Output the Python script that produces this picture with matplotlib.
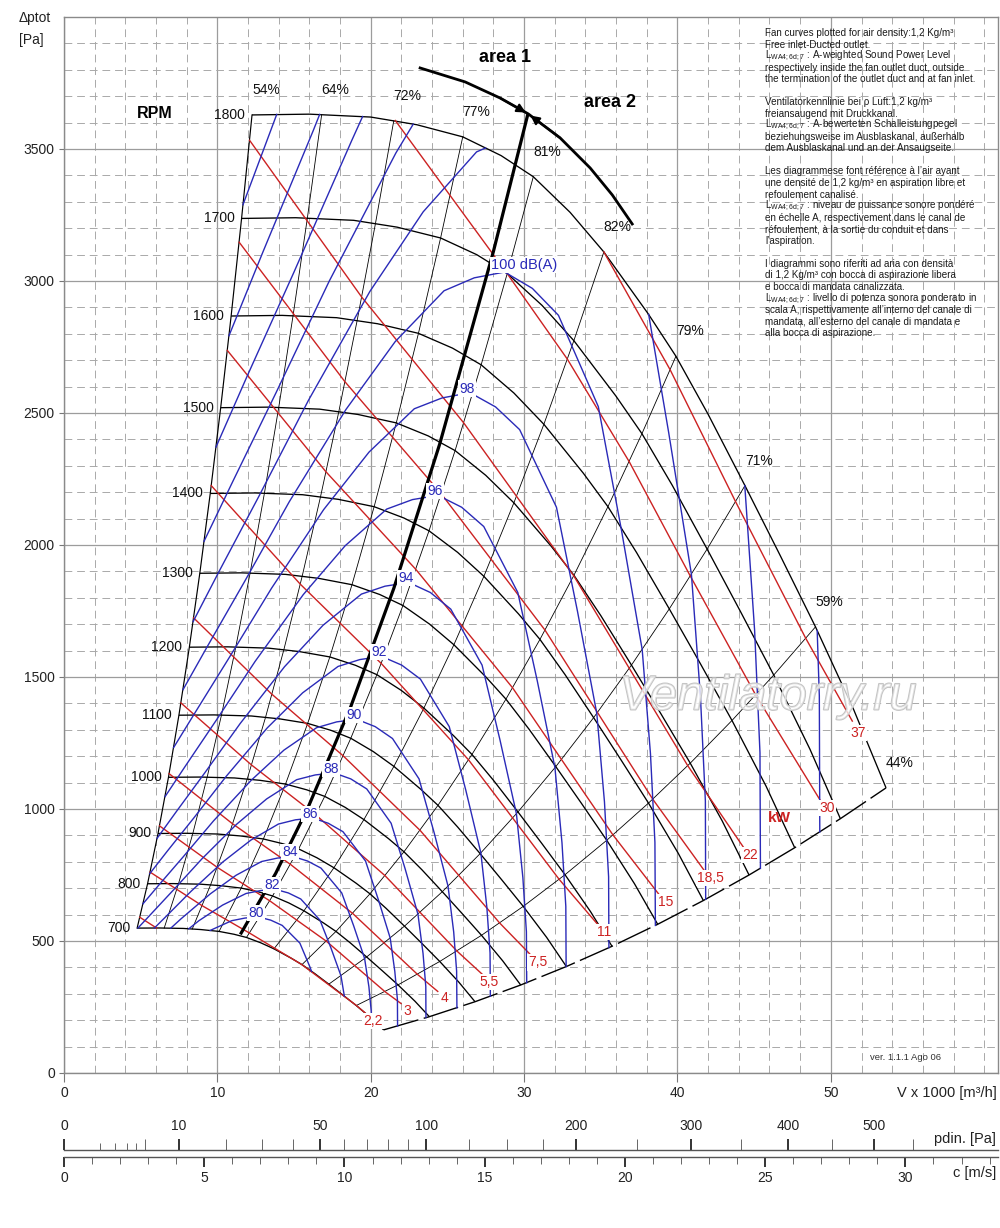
import numpy as np
import matplotlib
matplotlib.use("Agg")
import matplotlib.pyplot as plt
import matplotlib.patheffects as pe
from matplotlib.ticker import FixedLocator, MultipleLocator

plt.rcParams["font.family"] = ["Liberation Sans", "DejaVu Sans"]

# ---------------------------------------------------------------- data
rpm_values = [700, 800, 900, 1000, 1100, 1200, 1300, 1400, 1500, 1600, 1700, 1800]
ref_rpm = 1800
# fan curve at 1800 rpm  (V x 1000 m3/h , Pa)
curve_flow_1800 = [12.26, 16.0, 20.0, 23.0, 26.0, 28.5, 30.6, 33.0, 35.2, 38.1,
                   39.9, 42.0, 44.4, 46.7, 49.0, 51.5, 53.6]
curve_ptot_1800 = [3629, 3632, 3621, 3592, 3546, 3475, 3395, 3260, 3110, 2875,
                   2715, 2495, 2225, 1960, 1690, 1375, 1080]
# efficiency lines: flow where they meet the 1800 rpm curve
eff_flow_1800 = [12.26, 16.8, 21.5, 26.0, 30.6, 35.2, 39.9, 44.4, 49.0, 53.6]
eff_labels = ["54%", "64%", "72%", "77%", "81%", "82%", "79%", "71%", "59%", "44%"]

# motor power lines (kW)
kw1_5_flow = [4.94, 6.04]
kw1_5_ptot = [590, 549]
kw2_2_flow = [5.61, 9.00, 12.10, 15.52, 19.06, 19.73]
kw2_2_ptot = [761, 634, 530, 410, 256, 223]
kw3_flow = [6.23, 9.99, 13.42, 17.11, 20.93, 21.98]
kw3_ptot = [936, 779, 652, 499, 308, 263]
kw4_flow = [6.85, 10.99, 14.77, 18.83, 23.04, 24.37]
kw4_ptot = [1134, 944, 790, 604, 374, 309]
kw5_5_flow = [7.62, 12.22, 16.43, 20.94, 25.62, 27.31]
kw5_5_ptot = [1402, 1167, 977, 747, 462, 372]
kw7_5_flow = [8.45, 13.55, 18.21, 23.22, 28.41, 30.47]
kw7_5_ptot = [1724, 1435, 1201, 919, 568, 445]
kw11_flow = [9.60, 15.40, 20.69, 26.38, 32.28, 34.84]
kw11_ptot = [2225, 1852, 1551, 1186, 734, 560]
kw15_flow = [10.65, 17.07, 22.95, 29.25, 35.79, 38.84]
kw15_ptot = [2737, 2278, 1907, 1459, 902, 673]
kw18_5_flow = [11.42, 18.31, 24.61, 31.37, 38.39, 41.76]
kw18_5_ptot = [3147, 2619, 2193, 1677, 1037, 766]
kw22_flow = [12.10, 19.40, 26.07, 33.24, 40.67, 44.34]
kw22_ptot = [3533, 2940, 2462, 1883, 1164, 852]
kw30_flow = [21.6, 28.91, 32.82, 36.86, 40.84, 45.10, 49.34]
kw30_ptot = [3608, 3027, 2704, 2315, 1882, 1432, 1030]
kw37_flow = [35.2, 39.53, 43.79, 48.36, 51.40]
kw37_ptot = [3110, 2663, 2164, 1647, 1333]
kw_labels = ["2,2", "3", "4", "5,5", "7,5", "11", "15", "18,5", "22", "30", "37"]

# sound power level lines LwA dB(A)
lw80_flow = [9.53, 10.94, 11.81, 12.68, 13.48, 14.23, 15.38, 16.04, 16.14]
lw80_ptot = [540, 577, 587, 591, 579, 559, 492, 401, 385]
lw82_flow = [8.13, 8.80, 10.34, 11.87, 12.82, 13.76, 14.63, 15.44, 16.69, 17.41, 18.06, 18.28]
lw82_ptot = [546, 577, 636, 680, 691, 696, 682, 659, 579, 473, 368, 291]
lw84_flow = [6.97, 7.63, 9.55, 11.22, 12.88, 13.91, 14.93, 15.88, 16.76, 18.11, 18.89, 19.60, 19.88, 20.03, 20.05]
lw84_ptot = [549, 584, 679, 749, 801, 814, 820, 803, 776, 682, 557, 434, 327, 236, 207]
lw86_flow = [5.89, 6.62, 8.28, 10.37, 12.18, 13.98, 15.09, 16.21, 17.23, 18.19, 19.66, 20.50, 21.27, 21.57, 21.74, 21.75]
lw86_ptot = [549, 591, 688, 800, 882, 943, 959, 966, 946, 914, 803, 656, 511, 385, 278, 178]
lw88_flow = [4.82, 5.72, 7.18, 8.99, 11.25, 13.21, 15.17, 16.38, 17.59, 18.70, 19.74, 21.33, 22.25, 23.08, 23.41, 23.59, 23.60]
lw88_ptot = [549, 605, 696, 811, 942, 1038, 1111, 1129, 1137, 1114, 1076, 946, 772, 601, 453, 328, 210]
lw90_flow = [5.15, 6.20, 7.79, 9.75, 12.21, 14.34, 16.47, 17.78, 19.08, 20.29, 21.42, 23.15, 24.14, 25.04, 25.41, 25.60, 25.62]
lw90_ptot = [641, 713, 820, 955, 1109, 1223, 1308, 1330, 1340, 1312, 1267, 1114, 909, 708, 534, 386, 247]
lw92_flow = [5.59, 6.73, 8.45, 10.58, 13.25, 15.56, 17.87, 19.29, 20.71, 22.02, 23.24, 25.12, 26.20, 27.18, 27.57, 27.78, 27.80]
lw92_ptot = [755, 840, 965, 1124, 1307, 1440, 1540, 1566, 1578, 1545, 1492, 1312, 1071, 834, 629, 455, 291]
lw94_flow = [6.07, 7.31, 9.18, 11.49, 14.38, 16.89, 19.39, 20.93, 22.48, 23.89, 25.22, 27.26, 28.43, 29.50, 29.92, 30.15, 30.17]
lw94_ptot = [889, 989, 1137, 1324, 1539, 1696, 1814, 1844, 1858, 1820, 1757, 1545, 1261, 982, 740, 535, 342]
lw96_flow = [6.59, 7.93, 9.96, 12.46, 15.60, 18.33, 21.04, 22.72, 24.39, 25.93, 27.37, 29.59, 30.86, 32.01, 32.47, 32.72, 32.74]
lw96_ptot = [1047, 1164, 1339, 1559, 1812, 1997, 2136, 2172, 2188, 2143, 2070, 1820, 1485, 1157, 872, 631, 403]
lw98_flow = [7.15, 8.61, 10.81, 13.53, 16.93, 19.89, 22.84, 24.65, 26.47, 28.14, 29.71, 32.11, 33.48, 34.74, 35.24, 35.51, 35.53]
lw98_ptot = [1233, 1371, 1577, 1836, 2134, 2352, 2516, 2557, 2577, 2523, 2437, 2143, 1749, 1362, 1027, 743, 475]
lw100_flow = [7.76, 9.34, 11.73, 14.68, 18.38, 21.59, 24.78, 26.75, 28.73, 30.54, 32.24, 34.84, 36.34, 37.70, 38.24, 38.53, 38.56]
lw100_ptot = [1452, 1615, 1857, 2163, 2513, 2770, 2963, 3012, 3034, 2972, 2870, 2524, 2059, 1604, 1209, 874, 559]
lw102_left_flow = [8.42, 10.13, 12.73, 15.93, 19.94, 23.42, 26.90, 27.49]
lw102_left_ptot = [1710, 1902, 2187, 2547, 2960, 3262, 3489, 3504]
lw102_right_flow = [38.12, 39.43, 40.91, 41.50, 41.82, 41.84]
lw102_right_ptot = [2874, 2425, 1889, 1424, 1030, 658]
lw104_left_flow = [9.13, 11.00, 13.81, 17.29, 21.64, 22.77]
lw104_left_ptot = [2014, 2240, 2575, 2999, 3485, 3594]
lw104_right_flow = [44.39, 45.03, 45.38, 45.41]
lw104_right_ptot = [2225, 1677, 1213, 775]
lw106_left_flow = [9.91, 11.93, 14.99, 18.76, 19.47]
lw106_left_ptot = [2371, 2638, 3033, 3532, 3623]
lw106_right_flow = [49.11, 49.25, 49.28]
lw106_right_ptot = [1676, 1428, 913]
lw108_flow = [10.76, 12.95, 16.26, 16.67]
lw108_ptot = [2793, 3107, 3571, 3631]
lw110_flow = [11.67, 13.87]
lw110_ptot = [3289, 3631]
lw_labels = ["80", "82", "84", "86", "88", "90", "92", "94", "96", "98", "100 dB(A)"]

# area 1 / area 2 separation
area_flow = [11.5, 13.8, 15.9, 18.7, 21.5, 24.5, 28.0, 30.25]
area_ptot = [525, 756, 1004, 1388, 1835, 2383, 3112, 3633]
arc_flow = [23.22, 26.16, 28.44, 30.27, 32.35, 34.31, 35.75, 37.05]
arc_ptot = [3807, 3754, 3693, 3633, 3542, 3428, 3326, 3216]

# secondary scales
y_ticks = [0, 500, 1000, 1500, 2000, 2500, 3000, 3500]
x_ticks = [0, 10, 20, 30, 40, 50]
pdin_major_ticks = [0, 10, 50, 100, 200, 300, 400, 500]
pdin_minor_ticks = [5, 20, 30, 40, 60, 70, 80, 90, 125, 150, 175, 250, 350, 450, 550]
pdin_short_ticks = [1, 2, 3, 4]
c_major_ticks = [0, 5, 10, 15, 20, 25, 30]
c_max = 33.3
air_half_density = 0.6

legend_lines = [
    "Fan curves plotted for air density:1,2 Kg/m\u00b3",
    "Free inlet-Ducted outlet.",
    "LW : A-weighted Sound Power Level",
    "respectively inside the fan outlet duct, outside",
    "the termination of the outlet duct and at fan inlet.",
    "",
    "Ventilatorkennlinie bei \u03c1 Luft:1,2 kg/m\u00b3",
    "freiansaugend mit Druckkanal.",
    "LW : A-bewerteten Schalleistungpegel",
    "beziehungsweise im Ausblaskanal, au\u00dferhalb",
    "dem Ausblaskanal und an der Ansaugseite.",
    "",
    "Les diagrammese font r\u00e9f\u00e9rence \u00e0 l\u2019air ayant",
    "une densit\u00e9 de 1,2 kg/m\u00b3 en aspiration libre et",
    "refoulement canalis\u00e9.",
    "LW : niveau de puissance sonore pond\u00e9r\u00e9",
    "en \u00e9chelle A, respectivement dans le canal de",
    "r\u00e9foulement, \u00e0 la sortie du conduit et dans",
    "l\u2019aspiration.",
    "",
    "I diagrammi sono riferiti ad aria con densit\u00e0",
    "di 1,2 Kg/m\u00b3 con bocca di aspirazione libera",
    "e bocca di mandata canalizzata.",
    "LW : livello di potenza sonora ponderato in",
    "scala A, rispettivamente all\u2019interno del canale di",
    "mandata, all\u2019esterno del canale di mandata e",
    "alla bocca di aspirazione.",
]

# ---------------------------------------------------------------- styles
RED = "#cc2222"
BLUE = "#2a2ab8"
W, H = 1000, 1228


def fx(px):
    return px / W


def fy(py):
    return 1 - py / H


fig = plt.figure(figsize=(W / 100, H / 100), dpi=100)
ax = fig.add_axes([fx(64), fy(1073), fx(998) - fx(64), fy(17) - fy(1073)])
ax.set_xlim(0, 60.9)
ax.set_ylim(0, 4000)

ax.xaxis.set_major_locator(FixedLocator(x_ticks))
ax.xaxis.set_minor_locator(MultipleLocator(2))
ax.yaxis.set_major_locator(FixedLocator(y_ticks))
ax.yaxis.set_minor_locator(MultipleLocator(100))
ax.set_axisbelow(True)
ax.grid(which="major", color="#9c9c9c", lw=0.9, ls="-")
ax.grid(which="minor", color="#a9a9a9", lw=0.7, ls=(0, (8, 5)))
ax.tick_params(which="minor", length=0)
ax.tick_params(axis="x", which="major", length=6.5, width=0.8, color="#777777",
               pad=3, labelsize=10, labelcolor="#222222")
ax.tick_params(axis="y", which="major", length=3.6, width=0.8, color="#777777",
               pad=3, labelsize=10, labelcolor="#222222")
for s in ax.spines.values():
    s.set_color("#8a8a8a")
    s.set_linewidth(1.0)

flow_ref = np.array(curve_flow_1800)
p_ref = np.array(curve_ptot_1800)
ratios = np.array(rpm_values) / ref_rpm

# rpm curves
for n in rpm_values:
    s = n / ref_rpm
    ax.plot(flow_ref * s, p_ref * s ** 2, color="black", lw=0.95, zorder=3,
            solid_capstyle="butt")
    ax.annotate(str(n), (flow_ref[0] * s, p_ref[0] * s ** 2), xytext=(-5, 0),
                textcoords="offset points", ha="right", va="center", fontsize=10,
                color="#111111", zorder=6)

# efficiency lines
for vb, lab in zip(eff_flow_1800, eff_labels):
    pb = np.interp(vb, flow_ref, p_ref)
    if lab == "44%":
        ax.plot(vb * ratios, pb * ratios ** 2, color="black", lw=1.0,
                ls=(0, (26, 4)), zorder=3)
    else:
        ax.plot(vb * ratios, pb * ratios ** 2, color="black",
                lw=0.85 if lab == "54%" else 0.6, zorder=2)
    ax.annotate(lab, (vb, pb), xytext=(10, 18), textcoords="offset points",
                ha="center", va="center", fontsize=10, color="#111111", zorder=6)

# motor power lines
kw_lines = [(kw2_2_flow, kw2_2_ptot), (kw3_flow, kw3_ptot), (kw4_flow, kw4_ptot),
            (kw5_5_flow, kw5_5_ptot), (kw7_5_flow, kw7_5_ptot), (kw11_flow, kw11_ptot),
            (kw15_flow, kw15_ptot), (kw18_5_flow, kw18_5_ptot), (kw22_flow, kw22_ptot),
            (kw30_flow, kw30_ptot), (kw37_flow, kw37_ptot)]
ax.plot(kw1_5_flow, kw1_5_ptot, color=RED, lw=1.0, zorder=3.5)
for (fl, pt), lab in zip(kw_lines, kw_labels):
    ax.plot(fl, pt, color=RED, lw=1.0, zorder=3.5)
    off = (4.5, -8.5) if lab == "37" else (4.5, -5)
    ax.annotate(lab, (fl[-1], pt[-1]), xytext=off, textcoords="offset points",
                ha="center", va="center", fontsize=10, color=RED, zorder=6,
                bbox=dict(boxstyle="square,pad=0.08", fc="white", ec="none"))
ax.annotate("kW", (kw30_flow[-1], kw30_ptot[-1]), xytext=(-30, -12),
            textcoords="offset points", ha="center", va="center", fontsize=11,
            fontweight="bold", color=RED, zorder=6)

# sound power lines
lw_full = [(lw80_flow, lw80_ptot), (lw82_flow, lw82_ptot), (lw84_flow, lw84_ptot),
           (lw86_flow, lw86_ptot), (lw88_flow, lw88_ptot), (lw90_flow, lw90_ptot),
           (lw92_flow, lw92_ptot), (lw94_flow, lw94_ptot), (lw96_flow, lw96_ptot),
           (lw98_flow, lw98_ptot), (lw100_flow, lw100_ptot)]
lw_parts = [(lw102_left_flow, lw102_left_ptot), (lw102_right_flow, lw102_right_ptot),
            (lw104_left_flow, lw104_left_ptot), (lw104_right_flow, lw104_right_ptot),
            (lw106_left_flow, lw106_left_ptot), (lw106_right_flow, lw106_right_ptot),
            (lw108_flow, lw108_ptot), (lw110_flow, lw110_ptot)]
for fl, pt in lw_parts:
    ax.plot(fl, pt, color=BLUE, lw=1.0, zorder=3.5)
for (fl, pt), lab in zip(lw_full, lw_labels):
    ax.plot(fl, pt, color=BLUE, lw=1.0, zorder=3.5)
    k = int(np.argmax(pt))
    if lab.startswith("100"):
        ax.annotate(lab, (fl[k], pt[k]), xytext=(-10, 5), textcoords="offset points",
                    ha="left", va="center", fontsize=10.5, color=BLUE, zorder=6,
                    bbox=dict(boxstyle="square,pad=0.08", fc="white", ec="none"))
    else:
        ax.annotate(lab, (fl[k], pt[k]), xytext=(-2, 3), textcoords="offset points",
                    ha="center", va="center", fontsize=10, color=BLUE, zorder=6,
                    bbox=dict(boxstyle="square,pad=0.08", fc="white", ec="none"))

# area separation
ax.plot(area_flow, area_ptot, color="black", lw=2.3, zorder=4, solid_capstyle="butt")
ax.plot(arc_flow, arc_ptot, color="black", lw=2.0, zorder=4)
ax.annotate("", xy=(arc_flow[3], arc_ptot[3]), xytext=(arc_flow[2], arc_ptot[2]),
            arrowprops=dict(arrowstyle="-|>", color="black", lw=1.5,
                            mutation_scale=13, shrinkA=0, shrinkB=2), zorder=5)
ax.annotate("", xy=(arc_flow[3], arc_ptot[3]), xytext=(arc_flow[4], arc_ptot[4]),
            arrowprops=dict(arrowstyle="-|>", color="black", lw=1.5,
                            mutation_scale=13, shrinkA=0, shrinkB=2), zorder=5)
ax.text(0.472, 0.962, "area 1", transform=ax.transAxes, fontsize=13,
        fontweight="bold", ha="center", va="center", zorder=6)
ax.text(0.585, 0.9186, "area 2", transform=ax.transAxes, fontsize=13,
        fontweight="bold", ha="center", va="center", zorder=6)
ax.text(0.0974, 0.909, "RPM", transform=ax.transAxes, fontsize=11.5,
        fontweight="bold", ha="center", va="center", zorder=6)

# watermark
ax.text(0.7537, 0.3560, "Ventilatorry.ru", transform=ax.transAxes, fontsize=35,
        style="italic", color=(1, 1, 1, 0.5), ha="center", va="center", zorder=7,
        path_effects=[pe.withStroke(linewidth=1.3, foreground="#c2c2c2")])

# axis texts
fig.text(fx(19), fy(18), "\u0394ptot", fontsize=10, ha="left", va="center", color="#222222")
fig.text(fx(19), fy(40), "[Pa]", fontsize=10, ha="left", va="center", color="#222222")
fig.text(fx(997), fy(1093), "V x 1000 [m\u00b3/h]", fontsize=10.5, ha="right",
         va="center", color="#222222")
fig.text(fx(996), fy(1139), "pdin. [Pa]", fontsize=10.5, ha="right", va="center",
         color="#222222")
fig.text(fx(996), fy(1173), "c [m/s]", fontsize=10.5, ha="right", va="center",
         color="#222222")
fig.text(fx(905), fy(1057), "ver. 1.1.1 Ago 06", fontsize=6.8, ha="center",
         va="center", color="#333333")

LW = r"L$_{\mathregular{WA4;6d;7}}$"
for i, line in enumerate(legend_lines):
    if not line:
        continue
    txt = line.replace("LW :", LW + " :", 1) if line.startswith("LW :") else line
    fig.text(fx(765), fy(33 + i * 11.54), txt, fontsize=7.1, ha="left",
             va="center", color="#1a1a1a")

# ---------------------------------------------------------------- pdin scale
def to_c(p):
    return np.sqrt(np.clip(p, 0, None) / air_half_density)


def from_c(c):
    return air_half_density * np.asarray(c) ** 2


rect_w = fx(998) - fx(64)
axp = fig.add_axes([fx(64), fy(1150) - 0.0004, rect_w, 0.0004])
axp.set_xscale("function", functions=(to_c, from_c))
axp.set_xlim(0, air_half_density * c_max ** 2)
axp.yaxis.set_visible(False)
axp.patch.set_visible(False)
for side in ("bottom", "left", "right"):
    axp.spines[side].set_visible(False)
axp.spines["top"].set_color("#555555")
axp.spines["top"].set_linewidth(1.0)
axp.xaxis.set_ticks_position("top")
axp.set_xticks(pdin_major_ticks)
axp.set_xticklabels([str(t) for t in pdin_major_ticks])
axp.set_xticks(pdin_minor_ticks, minor=True)
axp.tick_params(which="major", direction="out", length=8, width=1.4, pad=4,
                labelsize=10, color="#333333", labelcolor="#222222")
axp.tick_params(which="minor", direction="out", length=8, width=0.7, color="#666666")

axs = fig.add_axes([fx(64), fy(1150) - 0.0004, rect_w, 0.0004])
axs.set_xscale("function", functions=(to_c, from_c))
axs.set_xlim(0, air_half_density * c_max ** 2)
axs.yaxis.set_visible(False)
axs.patch.set_visible(False)
for side in axs.spines:
    axs.spines[side].set_visible(False)
axs.xaxis.set_ticks_position("top")
axs.set_xticks(pdin_short_ticks)
axs.set_xticklabels([])
axs.xaxis.set_minor_locator(FixedLocator([]))
axs.tick_params(which="major", direction="out", length=5, width=0.7, color="#666666")

# ---------------------------------------------------------------- c scale
axc = fig.add_axes([fx(64), fy(1157), rect_w, 0.0004])
axc.set_xlim(0, c_max)
axc.yaxis.set_visible(False)
axc.patch.set_visible(False)
for side in ("top", "left", "right"):
    axc.spines[side].set_visible(False)
axc.spines["bottom"].set_color("#555555")
axc.spines["bottom"].set_linewidth(1.0)
axc.set_xticks(c_major_ticks)
axc.xaxis.set_minor_locator(MultipleLocator(1))
axc.tick_params(which="major", direction="out", length=7.2, width=1.4, pad=3,
                labelsize=10, color="#333333", labelcolor="#222222")
axc.tick_params(which="minor", direction="out", length=5, width=0.7, color="#666666")

fig.savefig("out.png", dpi=100)
